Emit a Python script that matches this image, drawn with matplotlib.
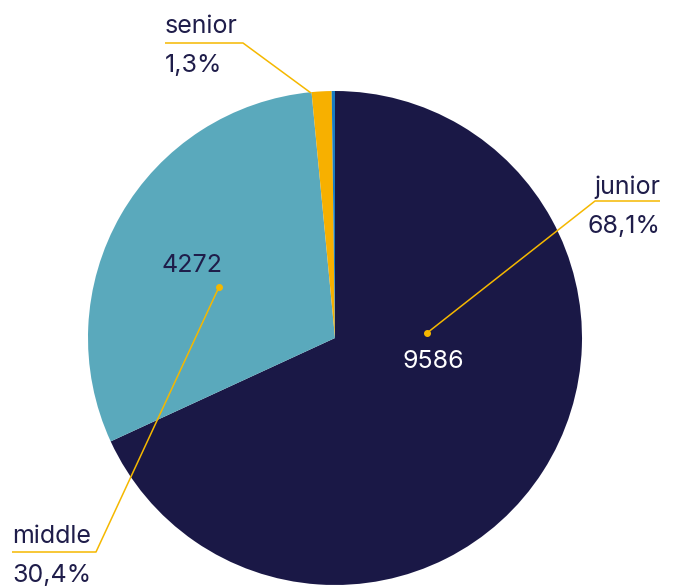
import matplotlib
matplotlib.use("Agg")
import matplotlib.pyplot as plt

# Data
LABELS = ["junior", "middle", "senior", "other"]
VALUES = [9586, 4272, 183, 30]
PERCENT_TEXT = ["68,1%", "30,4%", "1,3%", ""]
COLORS = ["#1a1846", "#5aa9bc", "#f7b000", "#1a7bc0"]

TEXT_COLOR = "#1f1d4a"
LINE_COLOR = "#f5b800"
W, H = 678, 587
FONT = ["Inter", "DejaVu Sans"]
FS = 18


def py(y):
    """Convert a pixel row (top origin) to data y."""
    return H - y


def main():
    plt.rcParams["font.family"] = FONT
    fig = plt.figure(figsize=(W / 100, H / 100), dpi=100)
    ax = fig.add_axes([0, 0, 1, 1])

    ax.pie(VALUES, colors=COLORS, startangle=90, counterclock=False,
           center=(335, py(338)), radius=247,
           wedgeprops={"linewidth": 0})

    ax.set_xlim(0, W)
    ax.set_ylim(0, H)
    ax.set_aspect("equal")
    ax.axis("off")

    # inner value labels
    ax.text(433, py(362), str(VALUES[0]), color="white", fontsize=FS,
            ha="center", va="center")
    ax.text(192, py(265), str(VALUES[1]), color=TEXT_COLOR, fontsize=FS,
            ha="center", va="center")

    # leader lines: (dot / start, elbow, end)
    leaders = [
        ((427, 333), (595, 201), (660, 201), True),
        ((219, 287), (96, 552), (12, 552), True),
        ((311, 93), (243, 43), (165, 43), False),
    ]
    for (p0, p1, p2, dot) in leaders:
        xs = [p0[0], p1[0], p2[0]]
        ys = [py(p0[1]), py(p1[1]), py(p2[1])]
        ax.plot(xs, ys, color=LINE_COLOR, linewidth=1.1, solid_capstyle="butt")
        if dot:
            ax.plot(p0[0], py(p0[1]), "o", color=LINE_COLOR, markersize=4)

    # outer labels
    ax.text(660, py(194), LABELS[0], color=TEXT_COLOR, fontsize=FS,
            ha="right", va="baseline")
    ax.text(660, py(233), PERCENT_TEXT[0], color=TEXT_COLOR, fontsize=FS,
            ha="right", va="baseline")
    ax.text(12, py(543), LABELS[1], color=TEXT_COLOR, fontsize=FS,
            ha="left", va="baseline")
    ax.text(12, py(582), PERCENT_TEXT[1], color=TEXT_COLOR, fontsize=FS,
            ha="left", va="baseline")
    ax.text(165, py(33), LABELS[2], color=TEXT_COLOR, fontsize=FS,
            ha="left", va="baseline")
    ax.text(165, py(72), PERCENT_TEXT[2], color=TEXT_COLOR, fontsize=FS,
            ha="left", va="baseline")

    fig.savefig("out.png", dpi=100, facecolor="white")


if __name__ == "__main__":
    main()
